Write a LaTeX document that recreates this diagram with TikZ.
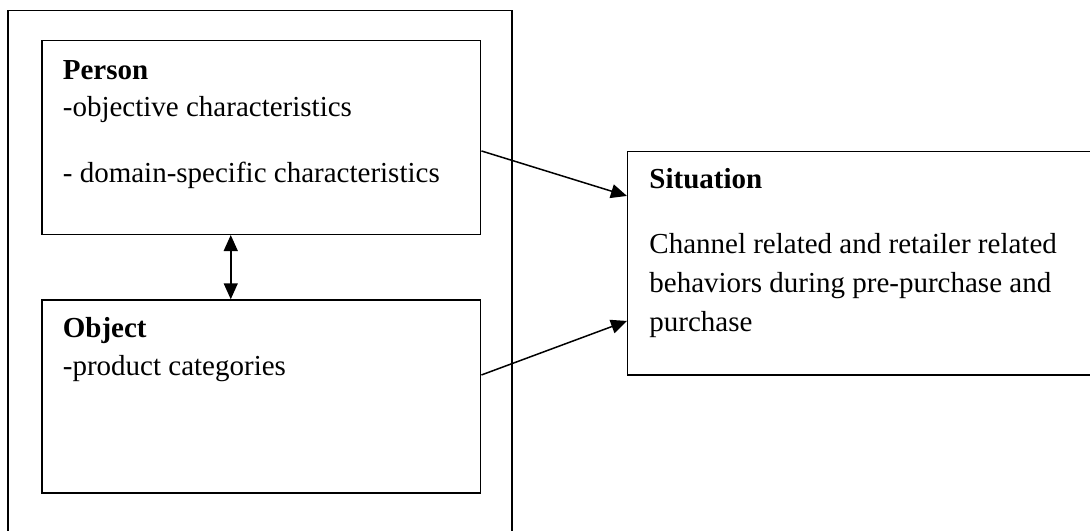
\documentclass[tikz,border=0pt]{standalone}
\usepackage{fontspec}
\setmainfont{Liberation Serif}
\usetikzlibrary{arrows.meta}

\tikzset{
  box/.style={draw, line width=0.75pt, inner sep=0pt},
  txt/.style={anchor=base west, inner sep=0pt, font=\fontsize{14.5}{19.2}\selectfont},
  head/.style={txt, font=\fontsize{14.5}{19.2}\selectfont\bfseries},
  conn/.style={line width=0.75pt, ->},
}

\begin{document}
\begin{tikzpicture}[x=0.5pt,y=-0.5pt,>={Triangle[length=8pt,width=7pt]}]
\useasboundingbox (0,0) rectangle (1090,530);
\clip (0,0) rectangle (1090,530);

% boxes
\node[box,minimum width=252pt,minimum height=274.65pt] at (260,285.35) (group) {};
\node[box,minimum width=219.35pt,minimum height=96.8pt] at (261.35,137.5) (person) {};
\node[box,minimum width=219.35pt,minimum height=96.5pt] at (261.35,396.5) (object) {};
\node[box,minimum width=241.15pt,minimum height=111.65pt] at (868.85,263.35) (situation) {};

% texts
\node[head] at (62.5,79) (pt) {Person};
\node[txt] at (62.5,116.7) (p1) {-objective characteristics};
\node[txt] at (62.5,182.7) (p2) {- domain-specific characteristics};

\node[head] at (62.5,337.3) (ot) {Object};
\node[txt] at (62.5,375.7) (o1) {-product categories};

\node[head] at (649,188.3) (st) {Situation};
\node[txt] at (649,253.3) (s1) {Channel related and retailer related};
\node[txt] at (649,292.7) (s2) {behaviors during pre-purchase and};
\node[txt] at (649,331) (s3) {purchase};

% arrows
\draw[conn] ([yshift=-55.5pt]person.north east) -- ([yshift=-22.5pt]situation.north west);
\draw[conn] ([yshift=-37.85pt]object.north east) -- ([yshift=-85pt]situation.north west);
\draw[conn,<->] ([xshift=-15.3pt]person.south) -- ([xshift=-15.3pt]object.north);
\end{tikzpicture}
\end{document}
